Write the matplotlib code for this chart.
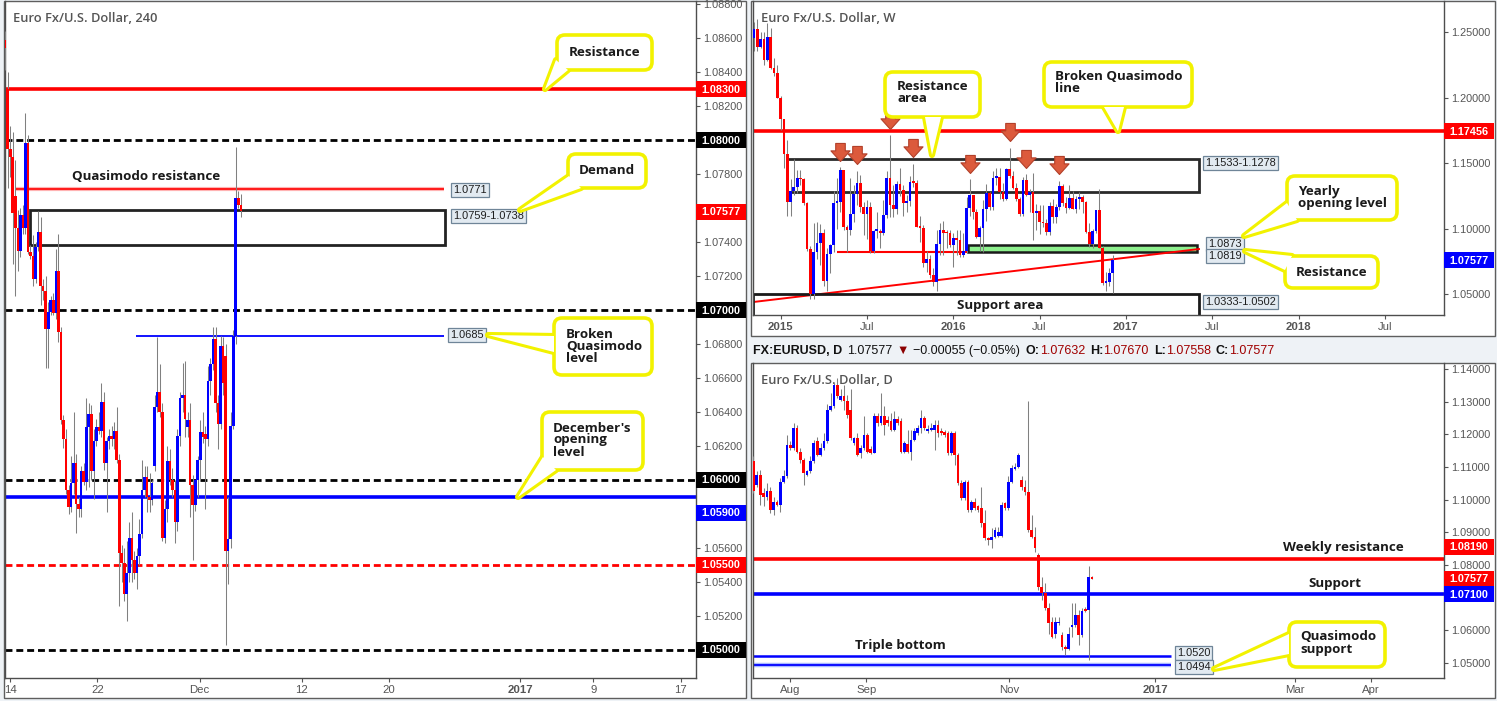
import matplotlib.pyplot as plt
import numpy as np
from matplotlib.patches import Rectangle, FancyBboxPatch, Polygon
from matplotlib.path import Path

plt.rcParams['font.family'] = ['Liberation Sans', 'DejaVu Sans']

W, H = 1497, 701
RED, BLUE = '#ff0000', '#0000ff'
WICK = '#808080'
YELLOW = '#f2f200'
NOTE = ['Open Sans', 'DejaVu Sans']

# ---------------- 4 hour candles (Nov 11 - Dec 5 2016) ----------------
h4_open = [1.0859, 1.0830, 1.0795, 1.0790, 1.0767, 1.0748, 1.0735, 1.0756, 1.0748, 1.0798,
           1.0734, 1.0732, 1.0718, 1.0737, 1.0746, 1.0714, 1.0711, 1.0689, 1.0699, 1.0706,
           1.0698, 1.0723, 1.0687, 1.0635, 1.0624, 1.0594, 1.0584, 1.0598, 1.0610, 1.0586,
           1.0583, 1.0605, 1.0599, 1.0631, 1.0639, 1.0605, 1.0623, 1.0631, 1.0629, 1.0646,
           1.0610, 1.0623, 1.0626, 1.0624, 1.0629, 1.0612, 1.0557, 1.0551, 1.0533, 1.0545,
           1.0566, 1.0553, 1.0545, 1.0555, 1.0568, 1.0594, 1.0602, 1.0590, 1.0588, 1.0608,
           1.0643, 1.0652, 1.0640, 1.0566, 1.0583, 1.0611, 1.0600, 1.0594, 1.0575, 1.0626,
           1.0648, 1.0650, 1.0631, 1.0635, 1.0597, 1.0585, 1.0600, 1.0612, 1.0628, 1.0627,
           1.0624, 1.0658, 1.0668, 1.0683, 1.0645, 1.0633, 1.0679, 1.0673, 1.0558, 1.0565,
           1.0632, 1.0685, 1.0766, 1.0762]
h4_high = [1.0864, 1.0840, 1.0808, 1.0805, 1.0788, 1.0759, 1.0760, 1.0762, 1.0816, 1.0803,
           1.0738, 1.0744, 1.0740, 1.0758, 1.0755, 1.0718, 1.0720, 1.0705, 1.0708, 1.0710,
           1.0736, 1.0745, 1.0690, 1.0638, 1.0630, 1.0597, 1.0614, 1.0640, 1.0615, 1.0590,
           1.0608, 1.0610, 1.0648, 1.0645, 1.0644, 1.0630, 1.0636, 1.0640, 1.0657, 1.0652,
           1.0625, 1.0630, 1.0632, 1.0634, 1.0643, 1.0615, 1.0562, 1.0560, 1.0564, 1.0575,
           1.0581, 1.0558, 1.0560, 1.0577, 1.0612, 1.0608, 1.0608, 1.0604, 1.0600, 1.0650,
           1.0684, 1.0668, 1.0645, 1.0588, 1.0620, 1.0618, 1.0607, 1.0600, 1.0630, 1.0652,
           1.0669, 1.0670, 1.0640, 1.0645, 1.0603, 1.0600, 1.0614, 1.0635, 1.0640, 1.0632,
           1.0667, 1.0672, 1.0690, 1.0690, 1.0650, 1.0685, 1.0684, 1.0680, 1.0590, 1.0640,
           1.0688, 1.0796, 1.0770, 1.0768]
h4_low = [1.0841, 1.0772, 1.0778, 1.0727, 1.0708, 1.0723, 1.0731, 1.0745, 1.0745, 1.0733,
          1.0730, 1.0714, 1.0716, 1.0735, 1.0703, 1.0706, 1.0666, 1.0666, 1.0697, 1.0697,
          1.0695, 1.0681, 1.0633, 1.0619, 1.0592, 1.0580, 1.0581, 1.0592, 1.0569, 1.0578,
          1.0578, 1.0597, 1.0594, 1.0596, 1.0600, 1.0589, 1.0620, 1.0627, 1.0625, 1.0606,
          1.0581, 1.0618, 1.0620, 1.0618, 1.0610, 1.0526, 1.0540, 1.0529, 1.0517, 1.0540,
          1.0540, 1.0542, 1.0536, 1.0550, 1.0566, 1.0590, 1.0581, 1.0581, 1.0585, 1.0605,
          1.0640, 1.0637, 1.0564, 1.0563, 1.0575, 1.0597, 1.0590, 1.0563, 1.0570, 1.0620,
          1.0640, 1.0625, 1.0625, 1.0578, 1.0553, 1.0582, 1.0590, 1.0600, 1.0622, 1.0583,
          1.0620, 1.0650, 1.0665, 1.0640, 1.0618, 1.0630, 1.0650, 1.0503, 1.0539, 1.0560,
          1.0630, 1.0680, 1.0760, 1.0755]
h4_close = [1.0854, 1.0795, 1.0790, 1.0757, 1.0748, 1.0735, 1.0756, 1.0748, 1.0798, 1.0734,
            1.0732, 1.0718, 1.0737, 1.0746, 1.0714, 1.0711, 1.0689, 1.0699, 1.0706, 1.0698,
            1.0723, 1.0687, 1.0635, 1.0624, 1.0594, 1.0584, 1.0598, 1.0610, 1.0586, 1.0583,
            1.0605, 1.0599, 1.0631, 1.0639, 1.0605, 1.0623, 1.0631, 1.0629, 1.0646, 1.0610,
            1.0623, 1.0626, 1.0624, 1.0629, 1.0612, 1.0557, 1.0551, 1.0533, 1.0545, 1.0566,
            1.0553, 1.0545, 1.0555, 1.0568, 1.0594, 1.0602, 1.0590, 1.0588, 1.0598, 1.0643,
            1.0652, 1.0640, 1.0566, 1.0583, 1.0611, 1.0600, 1.0594, 1.0575, 1.0626, 1.0648,
            1.0650, 1.0636, 1.0635, 1.0597, 1.0585, 1.0600, 1.0612, 1.0628, 1.0625, 1.0624,
            1.0658, 1.0668, 1.0683, 1.0645, 1.0633, 1.0679, 1.0657, 1.0558, 1.0565, 1.0632,
            1.0685, 1.0766, 1.0762, 1.0758]
h4_ticks = [0, 6, 13, 20, 26, 35, 40, 46]          # trading days after Nov 14
h4_ticklabels = ['14', '22', 'Dec', '12', '20', '2017', '9', '17']
h4_yticks = [1.088, 1.086, 1.084, 1.082, 1.078, 1.074, 1.072, 1.068, 1.066, 1.064, 1.062,
             1.056, 1.054, 1.052]

# ---------------- weekly candles (Nov 10 2014 - Dec 5 2016) ----------------
w_open = [1.2453, 1.2524, 1.2389, 1.2452, 1.2288, 1.2467, 1.2226, 1.2188, 1.2001, 1.1840,
          1.1567, 1.1205, 1.1291, 1.1315, 1.1388, 1.1377, 1.1197, 1.0845, 1.0497, 1.0822,
          1.0891, 1.0969, 1.0600, 1.0808, 1.0873, 1.1198, 1.1201, 1.1446, 1.1015, 1.0987,
          1.1110, 1.1266, 1.1349, 1.1164, 1.1108, 1.1163, 1.0831, 1.0983, 1.0984, 1.0970,
          1.1107, 1.1387, 1.1183, 1.1149, 1.1339, 1.1295, 1.1194, 1.1210, 1.1359, 1.1350,
          1.1015, 1.1006, 1.0738, 1.0770, 1.0645, 1.0593, 1.0880, 1.0989, 1.0965, 1.0964,
          1.0871, 1.0928, 1.0915, 1.0798, 1.0831, 1.1156, 1.1259, 1.1130, 1.0934, 1.1003,
          1.1150, 1.1269, 1.1166, 1.1390, 1.1398, 1.1282, 1.1225, 1.1454, 1.1402, 1.1310,
          1.1225, 1.1112, 1.1368, 1.1254, 1.1276, 1.1118, 1.1138, 1.1052, 1.1042, 1.0976,
          1.1174, 1.1086, 1.1166, 1.1325, 1.1198, 1.1158, 1.1233, 1.1153, 1.1226, 1.1240,
          1.1200, 1.0971, 1.0885, 1.0980, 1.1141, 1.0853, 1.0588, 1.0589, 1.0664]
w_high = [1.2577, 1.2600, 1.2500, 1.2500, 1.2570, 1.2530, 1.2300, 1.2250, 1.2010, 1.1840,
          1.1680, 1.1380, 1.1534, 1.1450, 1.1450, 1.1390, 1.1200, 1.0870, 1.1043, 1.1050,
          1.1035, 1.1000, 1.0850, 1.0880, 1.1290, 1.1390, 1.1467, 1.1450, 1.1030, 1.1385,
          1.1335, 1.1440, 1.1410, 1.1200, 1.1215, 1.1200, 1.0990, 1.1130, 1.0995, 1.1215,
          1.1440, 1.1714, 1.1330, 1.1360, 1.1460, 1.1330, 1.1260, 1.1400, 1.1495, 1.1370,
          1.1100, 1.1030, 1.0830, 1.0800, 1.0700, 1.0990, 1.1040, 1.1060, 1.0990, 1.0990,
          1.0970, 1.0990, 1.0990, 1.0970, 1.1240, 1.1376, 1.1260, 1.1150, 1.1020, 1.1220,
          1.1340, 1.1280, 1.1440, 1.1460, 1.1460, 1.1350, 1.1460, 1.1616, 1.1440, 1.1350,
          1.1240, 1.1395, 1.1416, 1.1300, 1.1427, 1.1190, 1.1180, 1.1180, 1.1070, 1.1200,
          1.1230, 1.1190, 1.1366, 1.1340, 1.1240, 1.1330, 1.1290, 1.1250, 1.1280, 1.1260,
          1.1210, 1.1040, 1.1000, 1.1146, 1.1300, 1.0870, 1.0670, 1.0700, 1.0796]
w_low = [1.2358, 1.2360, 1.2380, 1.2247, 1.2280, 1.2220, 1.2165, 1.1999, 1.1754, 1.1460,
         1.1098, 1.1098, 1.1260, 1.1270, 1.1330, 1.1180, 1.0830, 1.0462, 1.0460, 1.0770,
         1.0720, 1.0560, 1.0520, 1.0660, 1.0820, 1.1000, 1.1130, 1.0990, 1.0820, 1.0950,
         1.1050, 1.1180, 1.1130, 1.0950, 1.0920, 1.0810, 1.0810, 1.0930, 1.0850, 1.0950,
         1.1080, 1.1090, 1.1090, 1.1110, 1.1250, 1.1100, 1.1130, 1.1170, 1.1320, 1.1010,
         1.0900, 1.0710, 1.0670, 1.0620, 1.0560, 1.0524, 1.0800, 1.0800, 1.0850, 1.0860,
         1.0710, 1.0800, 1.0780, 1.0780, 1.0810, 1.1100, 1.1070, 1.0930, 1.0830, 1.0820,
         1.1060, 1.1140, 1.1140, 1.1330, 1.1230, 1.1210, 1.1220, 1.1390, 1.1300, 1.1210,
         1.1100, 1.1100, 1.1250, 1.1130, 1.0910, 1.0990, 1.0960, 1.1010, 1.0950, 1.0950,
         1.1040, 1.1040, 1.1140, 1.1170, 1.1120, 1.1150, 1.1150, 1.1120, 1.1150, 1.1120,
         1.0970, 1.0860, 1.0850, 1.0970, 1.0850, 1.0570, 1.0520, 1.0560, 1.0505]
w_close = [1.2524, 1.2389, 1.2452, 1.2288, 1.2467, 1.2226, 1.2188, 1.2001, 1.1840, 1.1567,
           1.1205, 1.1291, 1.1315, 1.1388, 1.1377, 1.1197, 1.0845, 1.0497, 1.0822, 1.0891,
           1.0969, 1.0600, 1.0808, 1.0873, 1.1198, 1.1201, 1.1446, 1.1015, 1.0987, 1.1110,
           1.1266, 1.1349, 1.1164, 1.1108, 1.1163, 1.0831, 1.0983, 1.0984, 1.0970, 1.1107,
           1.1387, 1.1183, 1.1149, 1.1339, 1.1295, 1.1194, 1.1210, 1.1359, 1.1350, 1.1015,
           1.1006, 1.0738, 1.0770, 1.0645, 1.0593, 1.0880, 1.0989, 1.0965, 1.0964, 1.0871,
           1.0928, 1.0915, 1.0798, 1.0831, 1.1156, 1.1259, 1.1130, 1.0934, 1.1003, 1.1150,
           1.1269, 1.1166, 1.1390, 1.1398, 1.1282, 1.1225, 1.1454, 1.1402, 1.1310, 1.1225,
           1.1112, 1.1368, 1.1254, 1.1276, 1.1118, 1.1138, 1.1052, 1.1042, 1.0976, 1.1174,
           1.1086, 1.1166, 1.1325, 1.1198, 1.1158, 1.1233, 1.1153, 1.1226, 1.1240, 1.1200,
           1.0971, 1.0885, 1.0980, 1.1141, 1.0853, 1.0588, 1.0589, 1.0664, 1.07577]
w_ticks = [8, 34, 60, 86, 112, 138, 164, 190]     # weeks after Nov 10 2014
w_ticklabels = ['2015', 'Jul', '2016', 'Jul', '2017', 'Jul', '2018', 'Jul']
w_yticks = [1.25, 1.20, 1.15, 1.10, 1.05]
w_arrow_weeks = [26, 31, 41, 48, 65, 77, 82, 92]

# ---------------- daily candles (Jul 15 - Dec 6 2016) ----------------
d_open = [1.1117, 1.1045, 1.1076, 1.1020, 1.1009, 1.1025, 1.0969, 1.0994, 1.0984, 1.1055,
          1.1071, 1.1168, 1.1158, 1.1219, 1.1147, 1.1122, 1.1076, 1.1086, 1.1117, 1.1178,
          1.1137, 1.1158, 1.1178, 1.1275, 1.1285, 1.1352, 1.1306, 1.1318, 1.1301, 1.1275,
          1.1173, 1.1188, 1.1142, 1.1158, 1.1199, 1.1155, 1.1144, 1.1255, 1.1234, 1.1255,
          1.1245, 1.1239, 1.1214, 1.1247, 1.1239, 1.1147, 1.1171, 1.1147, 1.1183, 1.1204,
          1.1219, 1.1250, 1.1209, 1.1214, 1.1214, 1.1229, 1.1209, 1.1206, 1.1204, 1.1142,
          1.1204, 1.1137, 1.1050, 1.1004, 1.1055, 1.0969, 1.0994, 1.0979, 1.0974, 1.0928,
          1.0882, 1.0877, 1.0887, 1.0889, 1.0889, 1.0989, 1.0974, 1.1055, 1.1093, 1.1101,
          1.1061, 1.1040, 1.1022, 1.0907, 1.0887, 1.0831, 1.0733, 1.0713, 1.0667, 1.0626,
          1.0590, 1.0621, 1.0585, 1.0549, 1.0544, 1.0611, 1.0616, 1.0646, 1.0585, 1.0664,
          1.0662, 1.07632]
d_high = [1.1132, 1.1086, 1.1091, 1.1035, 1.1050, 1.1040, 1.1009, 1.0999, 1.1066, 1.1091,
          1.1199, 1.1178, 1.1234, 1.1229, 1.1158, 1.1127, 1.1091, 1.1132, 1.1183, 1.1193,
          1.1173, 1.1204, 1.1291, 1.1326, 1.1357, 1.1372, 1.1337, 1.1352, 1.1321, 1.1337,
          1.1193, 1.1204, 1.1168, 1.1255, 1.1204, 1.1163, 1.1265, 1.1265, 1.1326, 1.1285,
          1.1255, 1.1265, 1.1270, 1.1255, 1.1250, 1.1178, 1.1214, 1.1214, 1.1219, 1.1229,
          1.1275, 1.1255, 1.1229, 1.1234, 1.1245, 1.1245, 1.1219, 1.1214, 1.1209, 1.1209,
          1.1209, 1.1142, 1.1061, 1.1061, 1.1061, 1.0999, 1.1004, 1.0984, 1.1040, 1.0969,
          1.0887, 1.0912, 1.0917, 1.0917, 1.0994, 1.0994, 1.1071, 1.1107, 1.1112, 1.1142,
          1.1071, 1.1061, 1.1301, 1.0953, 1.0917, 1.0836, 1.0764, 1.0744, 1.0682, 1.0641,
          1.0641, 1.0641, 1.0595, 1.0554, 1.0611, 1.0682, 1.0682, 1.0662, 1.0667, 1.0672,
          1.0796, 1.07670]
d_low = [1.1020, 1.1040, 1.0984, 1.0979, 1.0999, 1.0958, 1.0953, 1.0979, 1.0963, 1.1050,
         1.1066, 1.1153, 1.1153, 1.1142, 1.1112, 1.1045, 1.1071, 1.1081, 1.1112, 1.1132,
         1.1132, 1.1153, 1.1173, 1.1270, 1.1280, 1.1311, 1.1301, 1.1275, 1.1250, 1.1183,
         1.1168, 1.1132, 1.1127, 1.1153, 1.1142, 1.1140, 1.1142, 1.1224, 1.1229, 1.1199,
         1.1224, 1.1209, 1.1209, 1.1229, 1.1142, 1.1142, 1.1142, 1.1122, 1.1178, 1.1199,
         1.1204, 1.1214, 1.1204, 1.1209, 1.1153, 1.1193, 1.1199, 1.1193, 1.1137, 1.1137,
         1.1107, 1.1045, 1.0999, 1.0999, 1.0963, 1.0963, 1.0969, 1.0963, 1.0917, 1.0877,
         1.0861, 1.0851, 1.0882, 1.0887, 1.0887, 1.0969, 1.0969, 1.1050, 1.1091, 1.1096,
         1.1030, 1.1015, 1.0902, 1.0882, 1.0841, 1.0723, 1.0692, 1.0662, 1.0590, 1.0575,
         1.0575, 1.0616, 1.0539, 1.0524, 1.0539, 1.0580, 1.0611, 1.0554, 1.0580, 1.0657,
         1.0508, 1.07558]
d_close = [1.1025, 1.1076, 1.1015, 1.1009, 1.1025, 1.0969, 1.0994, 1.0984, 1.1055, 1.1071,
           1.1168, 1.1158, 1.1219, 1.1147, 1.1122, 1.1081, 1.1086, 1.1117, 1.1173, 1.1137,
           1.1158, 1.1178, 1.1275, 1.1285, 1.1352, 1.1316, 1.1316, 1.1301, 1.1260, 1.1188,
           1.1188, 1.1137, 1.1158, 1.1199, 1.1147, 1.1144, 1.1255, 1.1234, 1.1255, 1.1229,
           1.1234, 1.1214, 1.1247, 1.1234, 1.1147, 1.1173, 1.1147, 1.1183, 1.1209, 1.1219,
           1.1250, 1.1219, 1.1216, 1.1219, 1.1229, 1.1204, 1.1204, 1.1199, 1.1142, 1.1204,
           1.1137, 1.1050, 1.1004, 1.1055, 1.0969, 1.0994, 1.0974, 1.0969, 1.0928, 1.0882,
           1.0877, 1.0887, 1.0907, 1.0902, 1.0984, 1.0974, 1.1055, 1.1096, 1.1101, 1.1137,
           1.1040, 1.1022, 1.0907, 1.0887, 1.0851, 1.0733, 1.0713, 1.0667, 1.0621, 1.0580,
           1.0626, 1.0626, 1.0549, 1.0544, 1.0590, 1.0616, 1.0646, 1.0585, 1.0660, 1.0660,
           1.0764, 1.07577]
d_ticks = [0, 23, 66, 110, 152, 175]              # trading days after Aug 1 2016
d_ticklabels = ['Aug', 'Sep', 'Nov', '2017', 'Mar', 'Apr']
d_yticks = [1.14, 1.13, 1.12, 1.11, 1.10, 1.09, 1.08, 1.06, 1.05]

header = [('FX:EURUSD, D', 'bold', '#111111', 5), ('1.07577', 'normal', '#111111', 4),
          ('\u25bc', 'normal', '#8b0000', 4), ('\u22120.00055 (\u22120.05%)', 'normal', '#111111', 6),
          ('O:', 'bold', '#111111', 0), ('1.07632', 'normal', '#a00000', 5),
          ('H:', 'bold', '#111111', 0), ('1.07670', 'normal', '#a00000', 5),
          ('L:', 'bold', '#111111', 0), ('1.07558', 'normal', '#a00000', 5),
          ('C:', 'bold', '#111111', 0), ('1.07577', 'normal', '#a00000', 0)]

# ---------------- figure ----------------
fig = plt.figure(figsize=(W / 100, H / 100), dpi=100)
fig.patch.set_facecolor('#eef2f6')

bg = fig.add_axes([0, 0, 1, 1], zorder=-10)
bg.set_xlim(0, W)
bg.set_ylim(H, 0)
bg.axis('off')
for x0, y0, x1, y1 in [(4, 1, 746, 698), (751, 1, 1495, 336), (751, 363, 1495, 698)]:
    bg.add_patch(Rectangle((x0, y0), x1 - x0, y1 - y0, fc='white', ec='#5e5e5e', lw=1))

ov = fig.add_axes([0, 0, 1, 1], zorder=10)
ov.set_xlim(0, W)
ov.set_ylim(H, 0)
ov.axis('off')


def make_panel(box, xlim, ylim, yticks, xticks, xlabels):
    x0, y0, x1, y1 = box
    ax = fig.add_axes([x0 / W, 1 - y1 / H, (x1 - x0) / W, (y1 - y0) / H])
    ax.set_xlim(*xlim)
    ax.set_ylim(*ylim)
    ax.patch.set_visible(False)
    ax.spines['top'].set_visible(False)
    for s in ('left', 'right', 'bottom'):
        ax.spines[s].set_color('#4d4d4d')
        ax.spines[s].set_linewidth(1.0)
    ax.yaxis.tick_right()
    ax.set_yticks(yticks)
    ax.set_yticklabels([f'{v:.5f}' for v in yticks])
    ax.set_xticks(xticks)
    ax.set_xticklabels(xlabels)
    for lab in ax.get_xticklabels():
        if len(lab.get_text()) == 4 and lab.get_text().isdigit():
            lab.set_fontweight('bold')
    ax.tick_params(axis='y', colors='#555555', labelsize=7.8, length=3, width=0.8, pad=2)
    ax.tick_params(axis='x', colors='#555555', labelsize=8.2, length=3, width=0.8, pad=2)
    return ax


def ypx(ax, v):
    return H - ax.transData.transform((0, v))[1]


def draw_candles(ax, x, o, h, l, c, width):
    o, h, l, c = (np.asarray(v, float) for v in (o, h, l, c))
    per_px = abs(ax.transData.transform((0, 1))[1] - ax.transData.transform((0, 0))[1])
    ax.vlines(x, l, h, color=WICK, lw=0.75, zorder=3)
    height = np.maximum(np.abs(c - o), 1.5 / per_px)
    cols = [BLUE if up else RED for up in (c >= o)]
    ax.bar(x, height, width, np.minimum(o, c), color=cols, lw=0, zorder=4)


def price_tag(ax, value, text, color, y=None):
    right = ax.get_position().x1 * W
    if y is None:
        y = ypx(ax, value)
    ov.add_patch(Rectangle((right, y - 8), 50, 16, fc=color, ec='none'))
    ov.text(right + 25, y + 0.5, text, color='white', fontsize=7.8, fontweight='bold',
            ha='center', va='center')


def value_tag(x, y, text):
    ov.text(x, y, text, fontsize=7.9, color='#1e1e1e', ha='left', va='center',
            bbox=dict(boxstyle='square,pad=0.18', fc='#e2eaf1', ec='#6f8598', lw=0.9))


def callout(box, base, tip, text, tx, ty, ha='left'):
    x0, y0, x1, y1 = box
    tri = [base[0], base[1], tip]
    ov.add_patch(Polygon(tri, closed=True, fc='white', ec=YELLOW, lw=4.4, joinstyle='round', zorder=5))
    ov.add_patch(FancyBboxPatch((x0, y0), x1 - x0, y1 - y0,
                                boxstyle='round,pad=0,rounding_size=8',
                                fc='white', ec=YELLOW, lw=2.6, zorder=6))
    ov.add_patch(Polygon(tri, closed=True, fc='white', ec='none', zorder=7))
    ov.text(tx, ty, text, ha=ha, va='center', fontsize=9.6, fontweight='bold', family=NOTE,
            color='#1a1a1a', linespacing=0.9, zorder=8)


def note(x, y, text, ha='left'):
    ov.text(x, y, text, ha=ha, va='center', fontsize=9.6, fontweight='bold', family=NOTE,
            color='#1a1a1a')


def title(x, y, text):
    ov.text(x, y, text, ha='left', va='center', fontsize=9.3, fontweight='semibold',
            family=NOTE, color='#555555')


def dashed(ax, v, color):
    ax.axhline(v, color=color, lw=2.0, dashes=(2.5, 1.4), zorder=2)


# ---------------- 4H panel ----------------
ax4 = make_panel((5, 1, 696, 678), (-0.343, 47.05), (1.04835, 1.08818),
                 h4_yticks, h4_ticks, h4_ticklabels)
x4 = np.linspace(-2 / 6, 15 + 5 / 6, len(h4_close))
ax4.axhline(1.0830, color=RED, lw=2.6, zorder=2)
ax4.axhline(1.0590, color=BLUE, lw=2.6, zorder=2)
for v in (1.08, 1.07, 1.06, 1.05):
    dashed(ax4, v, 'black')
dashed(ax4, 1.0550, RED)
ax4.hlines(1.0771, 0.34, 29.77, color='#ffb3b3', lw=3.0, zorder=2)
ax4.hlines(1.0771, 0.34, 29.77, color=RED, lw=1.2, zorder=2)
ax4.add_patch(Rectangle((1.37, 1.0738), 28.47, 0.0021, fc='none', ec='#222222', lw=2.0, zorder=2))
ax4.hlines(1.0685, 8.64, 29.77, color=BLUE, lw=1.3, zorder=2)
draw_candles(ax4, x4, h4_open, h4_high, h4_low, h4_close, 0.18)

price_tag(ax4, 1.0830, '1.08300', RED)
price_tag(ax4, 1.0800, '1.08000', 'black')
price_tag(ax4, 1.07577, '1.07577', RED)
price_tag(ax4, 1.0700, '1.07000', 'black')
price_tag(ax4, 1.0600, '1.06000', 'black')
price_tag(ax4, 1.0590, '1.05900', BLUE, y=513)
price_tag(ax4, 1.0550, '1.05500', RED)
price_tag(ax4, 1.0500, '1.05000', 'black')

title(13, 18, 'Euro Fx/U.S. Dollar, 240')
note(72, 176, 'Quasimodo resistance')
value_tag(453, 190, '1.0771')
value_tag(453, 216, '1.0759-1.0738')
value_tag(450, 335, '1.0685')
callout((557, 35, 652, 70), [(556, 60), (568, 70)], (545, ypx(ax4, 1.0830)),
        'Resistance', 604.5, 52, ha='center')
callout((568, 154, 646, 188), [(569, 176), (581, 188)], (520, 210),
        'Demand', 607, 171, ha='center')
callout((554, 318, 652, 375), [(554, 336), (554, 352)], (488, 335),
        'Broken\nQuasimodo\nlevel', 566, 346)
callout((542, 412, 643, 470), [(543, 457), (556, 470)], (518, ypx(ax4, 1.0590)),
        "December's\nopening\nlevel", 553, 440)

# ---------------- weekly panel ----------------
axw = make_panel((753, 1, 1444, 315), (-0.3, 207.8), (1.0340, 1.2739),
                 w_yticks, w_ticks, w_ticklabels)
xw = np.arange(len(w_close))
axw.axhline(1.17456, color=RED, lw=2.6, zorder=2)
axw.add_patch(Rectangle((10, 1.1278), 124, 0.0255, fc='none', ec='#2a2a2a', lw=2.0, zorder=2))
axw.hlines(1.0819, 25, 64.5, color=RED, lw=1.5, zorder=2)
axw.add_patch(Rectangle((64.5, 1.0819), 69, 0.0054, fc='#8ef08e', ec='#1a1a1a', lw=1.8, zorder=2))
axw.plot([-0.3, 134], [1.0439, 1.0844], color=RED, lw=1.4, zorder=2)
axw.add_patch(Rectangle((-0.3, 1.0300), 134.3, 0.0202, fc='none', ec='#1a1a1a', lw=2.0, zorder=2,
                        clip_on=True))
draw_candles(axw, xw, w_open, w_high, w_low, w_close, 0.82)

arrow = Path([(0, 0), (9, 10), (4.5, 10), (4.5, 17), (-4.5, 17), (-4.5, 10), (-9, 10), (0, 0)],
             [Path.MOVETO] + [Path.LINETO] * 6 + [Path.CLOSEPOLY])
hw = np.asarray(w_high)
axw.plot(w_arrow_weeks, hw[w_arrow_weeks] + 0.005, ls='none', marker=arrow, ms=26,
         mfc='#dc5a3c', mec='#b2402a', mew=0.8, zorder=6)

price_tag(axw, 1.17456, '1.17456', RED)
price_tag(axw, 1.07577, '1.07577', BLUE)

title(761, 18, 'Euro Fx/U.S. Dollar, W')
note(1000, 305, 'Support area', ha='center')
value_tag(1205, 163, '1.1533-1.1278')
value_tag(1208, 244, '1.0873')
value_tag(1208, 256, '1.0819')
value_tag(1205, 302, '1.0333-1.0502')
callout((885, 72, 980, 117), [(925, 117), (941, 117)], (932, 155),
        'Resistance\narea', 897, 93)
callout((1044, 62, 1192, 107), [(1104, 107), (1124, 107)], (1118, ypx(axw, 1.17456)),
        'Broken Quasimodo\nline', 1055, 83)
callout((1287, 176, 1397, 220), [(1287, 203), (1297, 220)], (1244, 236),
        'Yearly\nopening level', 1298, 197)
callout((1285, 256, 1378, 288), [(1292, 256), (1285, 270)], (1245, 251),
        'Resistance', 1331.5, 272, ha='center')

# ---------------- daily panel ----------------
axd = make_panel((753, 363, 1444, 678), (-11.14, 196.99), (1.0454, 1.1418),
                 d_yticks, d_ticks, d_ticklabels)
xd = np.linspace(-11, 91, len(d_close))
axd.axhline(1.0819, color=RED, lw=2.6, zorder=2)
axd.axhline(1.0710, color=BLUE, lw=2.6, zorder=2)
axd.hlines(1.0520, -11.2, 114.8, color=BLUE, lw=1.8, zorder=2)
axd.hlines(1.0494, -11.2, 114.8, color='#a9b9ff', lw=3.2, zorder=2)
axd.hlines(1.0494, -11.2, 114.8, color=BLUE, lw=1.3, zorder=2)
draw_candles(axd, xd, d_open, d_high, d_low, d_close, 0.82)

price_tag(axd, 1.0819, '1.08190', RED, y=547)
price_tag(axd, 1.07577, '1.07577', RED)
price_tag(axd, 1.0710, '1.07100', BLUE)

title(761, 381, 'Euro Fx/U.S. Dollar, D')
note(855, 646, 'Triple bottom')
note(1343, 547, 'Weekly resistance', ha='center')
note(1335, 584, 'Support', ha='center')
value_tag(1177, 653, '1.0520')
value_tag(1177, 667, '1.0494')
callout((1289, 622, 1385, 667), [(1289, 634), (1289, 654)], (1214, 669),
        'Quasimodo\nsupport', 1300, 643)

# header line above the daily panel
renderer = fig.canvas.get_renderer()
hx = 753
for text, weight, color, gap in header:
    t = ov.text(hx, 354, text, fontsize=9, fontweight=weight, color=color,
                ha='left', va='baseline')
    hx += t.get_window_extent(renderer).width + gap

fig.savefig('out.png', dpi=100, facecolor=fig.get_facecolor())
